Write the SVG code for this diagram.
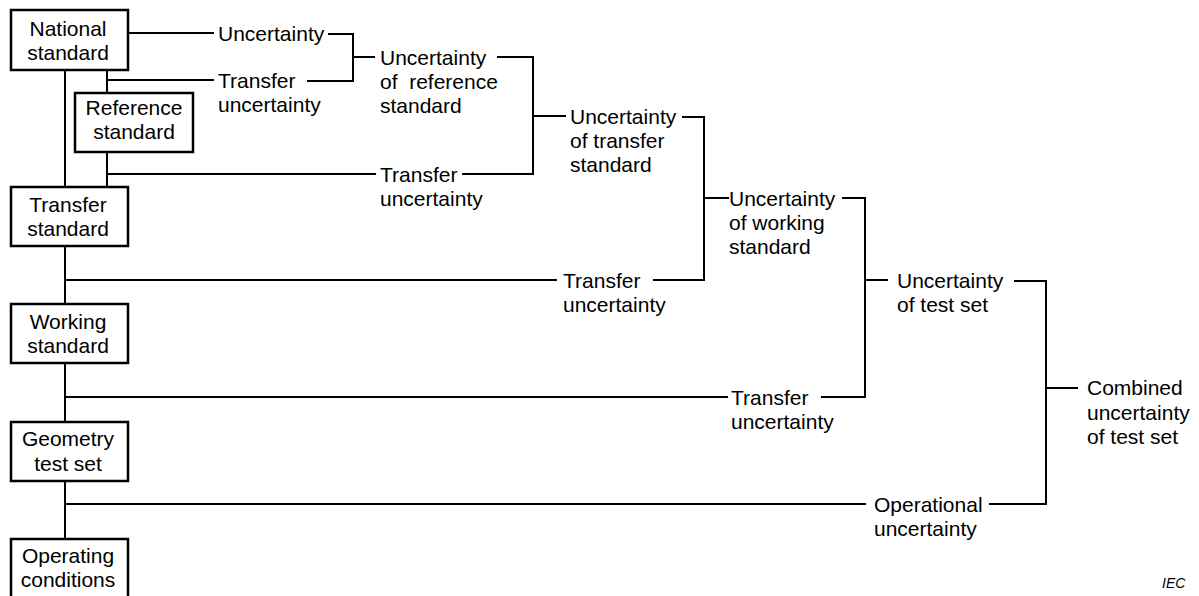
<svg xmlns="http://www.w3.org/2000/svg" width="1199" height="596" viewBox="0 0 1199 596">
<style>
.box{fill:#fff;stroke:#000;stroke-width:2.5}
.ln{fill:none;stroke:#000;stroke-width:2;stroke-linecap:square}
text{font-family:"Liberation Sans",Arial,sans-serif;font-size:21px;fill:#000}
.c{text-anchor:middle}
.iec{font-size:14px;font-style:italic}
</style>
<rect width="1199" height="596" fill="#fff"/>
<g id="connectors">
<path class="ln" d="M65,70V187 M65,246V304 M65,363V422 M65,481V539"/>
<path class="ln" d="M107,70V93 M107,152V187"/>
<path class="ln" d="M128,33H213 M329,34H353V81H308 M213,80H107 M353,57H374"/>
<path class="ln" d="M498,57H533V174H463 M375,174H107 M533,116H565"/>
<path class="ln" d="M683,117H704V280H654 M556,280H65 M704,198H728"/>
<path class="ln" d="M843,198H865V397H822 M727,397H65 M865,280H887"/>
<path class="ln" d="M1015,281H1046V504H990 M865,504H65 M1046,388H1077"/>
</g>
<g id="national"><rect class="box" x="11" y="10" width="117" height="60"/><text class="c" x="68" y="36">National</text><text class="c" x="68" y="60">standard</text></g>
<g id="reference"><rect class="box" x="75" y="93" width="118" height="59"/><text class="c" x="134" y="115">Reference</text><text class="c" x="134" y="139">standard</text></g>
<g id="transfer"><rect class="box" x="11" y="187" width="117" height="59"/><text class="c" x="68" y="212">Transfer</text><text class="c" x="68" y="236">standard</text></g>
<g id="working"><rect class="box" x="11" y="304" width="117" height="59"/><text class="c" x="68" y="329">Working</text><text class="c" x="68" y="353">standard</text></g>
<g id="geometry"><rect class="box" x="11" y="422" width="117" height="59"/><text class="c" x="68" y="446">Geometry</text><text class="c" x="68" y="471">test set</text></g>
<g id="operating"><rect class="box" x="11" y="539" width="117" height="59"/><text class="c" x="68" y="563">Operating</text><text class="c" x="68" y="587">conditions</text></g>
<g id="lbl-unc"><text x="218" y="41">Uncertainty</text></g>
<g id="lbl-tu1"><text x="218" y="88">Transfer</text><text x="218" y="112">uncertainty</text></g>
<g id="lbl-uref"><text x="380" y="65">Uncertainty</text><text x="380" y="89" xml:space="preserve">of  reference</text><text x="380" y="113">standard</text></g>
<g id="lbl-tu2"><text x="380" y="182">Transfer</text><text x="380" y="206">uncertainty</text></g>
<g id="lbl-utr"><text x="570" y="124">Uncertainty</text><text x="570" y="148">of transfer</text><text x="570" y="172">standard</text></g>
<g id="lbl-tu3"><text x="563" y="288">Transfer</text><text x="563" y="312">uncertainty</text></g>
<g id="lbl-uwk"><text x="729" y="206">Uncertainty</text><text x="729" y="230">of working</text><text x="729" y="254">standard</text></g>
<g id="lbl-tu4"><text x="731" y="405">Transfer</text><text x="731" y="429">uncertainty</text></g>
<g id="lbl-uts"><text x="897" y="288">Uncertainty</text><text x="897" y="312">of test set</text></g>
<g id="lbl-op"><text x="874" y="512">Operational</text><text x="874" y="536">uncertainty</text></g>
<g id="lbl-comb"><text x="1087" y="395">Combined</text><text x="1087" y="420">uncertainty</text><text x="1087" y="444">of test set</text></g>
<text class="iec" x="1162" y="588">IEC</text>
</svg>
